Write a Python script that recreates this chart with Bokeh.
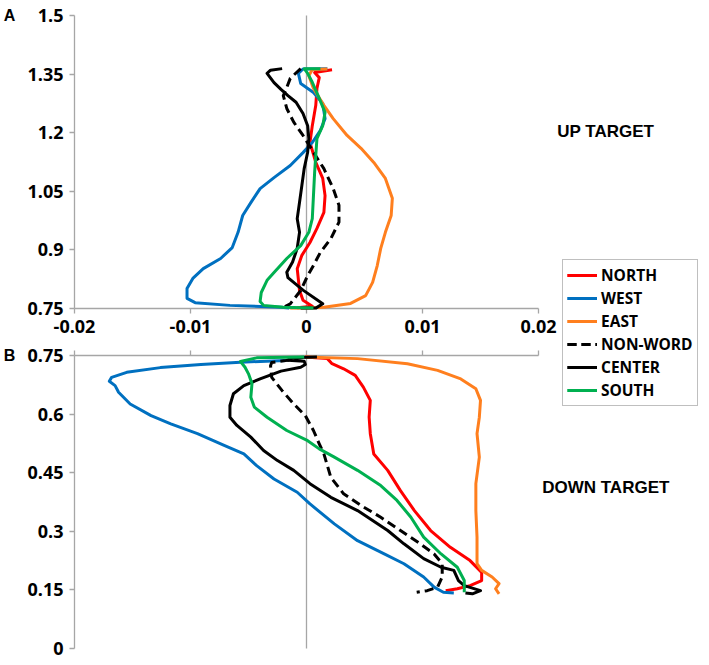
from bokeh.plotting import figure
from bokeh.models import Range1d, LinearAxis, FixedTicker, Legend, LegendItem, Label
from bokeh.embed import file_html
from bokeh.resources import INLINE

# ---------------- data ----------------
series_names = ["NORTH", "WEST", "EAST", "NON-WORD", "CENTER", "SOUTH"]

x_ticks = [-0.02, -0.01, 0.0, 0.01, 0.02]
x_tick_labels = ["-0.02", "-0.01", "0", "0.01", "0.02"]
up_ticks = [0.75, 0.9, 1.05, 1.2, 1.35, 1.5]
up_tick_labels = ["0.75", "0.9", "1.05", "1.2", "1.35", "1.5"]
down_ticks = [0.0, 0.15, 0.3, 0.45, 0.6, 0.75]
down_tick_labels = ["0", "0.15", "0.3", "0.45", "0.6", "0.75"]

# UP TARGET (panel A)
north_up_x = [0.0022, 0.0007, 0.0011, 0.0009, 0.0008, 0.0005, 0.0003, 0.0008, 0.0014, 0.0016, 0.0015, 0.0009, 0.0003, -0.0004, -0.0008, -0.0006, -0.0003, 0.0005, -0.0008]
north_up_y = [1.361, 1.354, 1.341, 1.313, 1.270, 1.218, 1.175, 1.124, 1.083, 1.039, 0.996, 0.955, 0.919, 0.886, 0.852, 0.796, 0.771, 0.756, 0.752]

west_up_x = [0.0018, -0.0003, -0.0007, -0.0005, 0.0006, 0.0014, 0.0016, 0.0012, 0.0005, -0.0003, -0.0014, -0.0028, -0.0040, -0.0048, -0.0055, -0.0059, -0.0064, -0.0074, -0.0089, -0.0098, -0.0103, -0.0103, -0.0096, -0.0066, -0.0022, -0.0015]
west_up_y = [1.364, 1.363, 1.352, 1.326, 1.303, 1.275, 1.236, 1.206, 1.175, 1.149, 1.116, 1.085, 1.057, 1.021, 0.988, 0.945, 0.906, 0.878, 0.852, 0.827, 0.801, 0.776, 0.765, 0.758, 0.753, 0.751]

east_up_x = [0.0018, 0.0005, 0.0002, 0.0006, 0.0015, 0.0023, 0.0035, 0.0047, 0.0058, 0.0068, 0.0074, 0.0073, 0.0068, 0.0064, 0.0061, 0.0057, 0.0051, 0.0038, 0.0015, 0.0001, -0.0014]
east_up_y = [1.363, 1.362, 1.346, 1.313, 1.270, 1.236, 1.193, 1.160, 1.124, 1.083, 1.032, 0.988, 0.945, 0.904, 0.860, 0.817, 0.783, 0.763, 0.753, 0.751, 0.751]

nonword_up_x = [-0.0005, -0.0014, -0.0018, -0.0020, -0.0017, -0.0011, -0.0003, 0.0006, 0.0015, 0.0023, 0.0028, 0.0028, 0.0021, 0.0012, 0.0006, 0.0001, -0.0005, -0.0014, -0.0020]
nonword_up_y = [1.364, 1.339, 1.308, 1.295, 1.262, 1.227, 1.193, 1.150, 1.108, 1.057, 1.014, 0.971, 0.929, 0.894, 0.860, 0.834, 0.796, 0.762, 0.753]

center_up_x = [-0.0021, -0.0031, -0.0034, -0.0028, -0.0022, -0.0016, -0.0009, -0.0003, 0.0001, 0.0002, 0.0001, -0.0002, -0.0004, -0.0006, -0.0008, -0.0006, -0.0008, -0.0012, -0.0017, -0.0016, -0.0003, 0.0014, 0.0008, -0.0005]
center_up_y = [1.364, 1.360, 1.352, 1.328, 1.311, 1.295, 1.278, 1.249, 1.218, 1.185, 1.150, 1.108, 1.065, 1.022, 0.980, 0.945, 0.904, 0.869, 0.843, 0.829, 0.797, 0.762, 0.751, 0.751]

south_up_x = [0.0012, -0.0002, 0.0001, 0.0005, 0.0010, 0.0016, 0.0014, 0.0009, 0.0008, 0.0007, 0.0006, 0.0005, 0.0002, -0.0005, -0.0017, -0.0028, -0.0034, -0.0039, -0.0040, -0.0037, -0.0020, 0.0006]
south_up_y = [1.364, 1.364, 1.352, 1.329, 1.295, 1.252, 1.218, 1.185, 1.142, 1.098, 1.039, 0.980, 0.945, 0.911, 0.878, 0.842, 0.822, 0.791, 0.768, 0.758, 0.753, 0.751]

# DOWN TARGET (panel B)
north_down_x = [-0.0001, 0.0008, 0.0018, 0.0022, 0.0032, 0.0042, 0.0049, 0.0055, 0.0054, 0.0055, 0.0058, 0.0070, 0.0081, 0.0093, 0.0107, 0.0124, 0.0141, 0.0151, 0.0151, 0.0141, 0.0130, 0.0120]
north_down_y = [0.746, 0.744, 0.742, 0.729, 0.716, 0.699, 0.669, 0.635, 0.592, 0.550, 0.498, 0.456, 0.404, 0.353, 0.302, 0.259, 0.225, 0.195, 0.174, 0.161, 0.153, 0.148]

west_down_x = [-0.0018, -0.0057, -0.0091, -0.0126, -0.0155, -0.0168, -0.0170, -0.0165, -0.0162, -0.0152, -0.0134, -0.0117, -0.0094, -0.0071, -0.0054, -0.0043, -0.0028, -0.0008, 0.0003, 0.0024, 0.0044, 0.0067, 0.0084, 0.0101, 0.0110, 0.0118, 0.0127]
west_down_y = [0.737, 0.733, 0.727, 0.719, 0.707, 0.694, 0.684, 0.673, 0.656, 0.626, 0.596, 0.575, 0.550, 0.520, 0.498, 0.468, 0.434, 0.400, 0.370, 0.319, 0.276, 0.242, 0.217, 0.183, 0.157, 0.144, 0.142]

east_down_x = [-0.0001, 0.0044, 0.0087, 0.0113, 0.0133, 0.0146, 0.0150, 0.0149, 0.0147, 0.0149, 0.0146, 0.0146, 0.0147, 0.0147, 0.0151, 0.0160, 0.0166, 0.0163, 0.0166]
east_down_y = [0.746, 0.742, 0.729, 0.712, 0.690, 0.665, 0.635, 0.592, 0.550, 0.490, 0.422, 0.353, 0.285, 0.217, 0.200, 0.183, 0.166, 0.153, 0.140]

nonword_down_x = [-0.0003, -0.0018, -0.0030, -0.0031, -0.0030, -0.0021, -0.0011, -0.0001, 0.0006, 0.0011, 0.0015, 0.0021, 0.0032, 0.0047, 0.0064, 0.0081, 0.0098, 0.0110, 0.0117, 0.0117, 0.0113, 0.0104, 0.0095]
nonword_down_y = [0.745, 0.737, 0.732, 0.724, 0.694, 0.660, 0.626, 0.596, 0.558, 0.524, 0.498, 0.438, 0.396, 0.366, 0.336, 0.302, 0.268, 0.242, 0.217, 0.183, 0.157, 0.148, 0.144]

center_down_x = [0.0009, -0.0014, -0.0016, -0.0002, -0.0001, -0.0005, -0.0022, -0.0040, -0.0054, -0.0063, -0.0066, -0.0066, -0.0060, -0.0048, -0.0037, -0.0025, -0.0011, 0.0003, 0.0021, 0.0044, 0.0070, 0.0084, 0.0101, 0.0116, 0.0127, 0.0131, 0.0136, 0.0150, 0.0143, 0.0137]
center_down_y = [0.746, 0.744, 0.738, 0.735, 0.727, 0.720, 0.710, 0.690, 0.673, 0.652, 0.622, 0.592, 0.571, 0.541, 0.507, 0.481, 0.456, 0.422, 0.387, 0.353, 0.302, 0.268, 0.230, 0.208, 0.200, 0.174, 0.161, 0.148, 0.140, 0.142]

south_down_x = [-0.0002, -0.0043, -0.0057, -0.0053, -0.0050, -0.0047, -0.0048, -0.0045, -0.0034, -0.0017, 0.0001, 0.0011, 0.0024, 0.0044, 0.0064, 0.0078, 0.0090, 0.0101, 0.0116, 0.0130, 0.0136, 0.0136]
south_down_y = [0.746, 0.744, 0.735, 0.720, 0.703, 0.678, 0.643, 0.618, 0.592, 0.558, 0.532, 0.511, 0.490, 0.456, 0.417, 0.379, 0.336, 0.285, 0.242, 0.208, 0.174, 0.144]

# ---------------- styling ----------------
colors = {"NORTH": "#FF0000", "WEST": "#0070C0", "EAST": "#FF7F1E",
          "NON-WORD": "#000000", "CENTER": "#000000", "SOUTH": "#00B050"}
dashes = {"NON-WORD": "9 5"}
GRAY = "#a6a6a6"
TICK_FONT = "Open Sans"

up_data = {"NORTH": (north_up_x, north_up_y), "WEST": (west_up_x, west_up_y),
           "EAST": (east_up_x, east_up_y), "NON-WORD": (nonword_up_x, nonword_up_y),
           "CENTER": (center_up_x, center_up_y), "SOUTH": (south_up_x, south_up_y)}
down_data = {"NORTH": (north_down_x, north_down_y), "WEST": (west_down_x, west_down_y),
             "EAST": (east_down_x, east_down_y), "NON-WORD": (nonword_down_x, nonword_down_y),
             "CENTER": (center_down_x, center_down_y), "SOUTH": (south_down_x, south_down_y)}

# ---------------- layout geometry (pixels of the canvas) ----------------
W, H = 705, 661
PX_X0, PX_X1 = 74.0, 538.0         # x = -0.02 and x = 0.02
PX_A_TOP, PX_A_BOT = 15.0, 308.0   # panel A: 1.5 .. 0.75
PX_B_TOP, PX_B_BOT = 355.0, 648.0  # panel B: 0.75 .. 0
ppx = (PX_X1 - PX_X0) / 0.04
ppy = (PX_A_BOT - PX_A_TOP) / 0.75

x_start = -0.02 - PX_X0 / ppx
x_end = -0.02 + (W - PX_X0) / ppx
b_start = 0.0 - (H - PX_B_BOT) / ppy
b_end = 0.75 + PX_B_TOP / ppy
a_start = 0.75 - (H - PX_A_BOT) / ppy
a_end = 1.5 + PX_A_TOP / ppy

p = figure(frame_width=W, frame_height=H,
           x_range=Range1d(x_start, x_end), y_range=Range1d(b_start, b_end),
           x_axis_location=None, y_axis_location=None,
           toolbar_location=None, output_backend="svg",
           min_border_left=0, min_border_right=0, min_border_top=0, min_border_bottom=0)
p.extra_y_ranges = {"A": Range1d(a_start, a_end)}
p.outline_line_color = None
p.xgrid.visible = False
p.ygrid.visible = False
p.background_fill_color = "white"
p.border_fill_color = "white"


def style_axis(ax):
    ax.axis_line_color = GRAY
    ax.axis_line_width = 1.3
    ax.major_tick_line_color = GRAY
    ax.major_tick_line_width = 1.3
    ax.major_tick_out = 5
    ax.major_tick_in = 0
    ax.minor_tick_out = 0
    ax.minor_tick_in = 0
    ax.major_label_text_font = TICK_FONT
    ax.major_label_text_font_style = "bold"
    ax.major_label_text_font_size = "18px"
    ax.major_label_text_color = "black"
    ax.major_label_standoff = 6
    ax.level = "underlay"
    return ax


# left axes
yA = style_axis(LinearAxis(y_range_name="A", fixed_location=-0.02, bounds=(0.75, 1.5),
                           ticker=FixedTicker(ticks=up_ticks),
                           major_label_overrides=dict(zip(up_ticks, up_tick_labels))))
p.add_layout(yA, "left")
yB = style_axis(LinearAxis(fixed_location=-0.02, bounds=(0.0, 0.75),
                           ticker=FixedTicker(ticks=down_ticks),
                           major_label_overrides=dict(zip(down_ticks, down_tick_labels))))
p.add_layout(yB, "left")

# horizontal axes
xA = style_axis(LinearAxis(y_range_name="A", fixed_location=0.75, bounds=(-0.02, 0.02),
                           ticker=FixedTicker(ticks=x_ticks),
                           major_label_overrides=dict(zip(x_ticks, x_tick_labels))))
p.add_layout(xA, "below")
xB = style_axis(LinearAxis(fixed_location=0.75, bounds=(-0.02, 0.02),
                           ticker=FixedTicker(ticks=x_ticks),
                           major_label_overrides={t: "" for t in x_ticks}))
p.add_layout(xB, "above")

# zero lines
zA = style_axis(LinearAxis(y_range_name="A", fixed_location=0.0, bounds=(0.75, 1.5),
                           ticker=FixedTicker(ticks=[])))
zA.major_tick_out = 0
p.add_layout(zA, "left")
zB = style_axis(LinearAxis(fixed_location=0.0, bounds=(0.0, 0.75),
                           ticker=FixedTicker(ticks=[])))
zB.major_tick_out = 0
p.add_layout(zB, "left")

items = []
for name in series_names:
    kw = dict(line_color=colors[name], line_width=3, line_join="round")
    if name in dashes:
        kw["line_dash"] = dashes[name]
    ux, uy = up_data[name]
    dx, dy = down_data[name]
    rA = p.line(ux, uy, y_range_name="A", **kw)
    rB = p.line(dx, dy, **kw)
    items.append(LegendItem(label=name, renderers=[rA, rB]))

legend = Legend(items=items, location=(562, H - 406), margin=0, padding=4, spacing=1,
                glyph_width=30, glyph_height=20, label_height=20, label_standoff=4,
                label_text_font=TICK_FONT, label_text_font_style="bold",
                label_text_font_size="15.5px", label_text_color="black",
                border_line_color="#808080", border_line_width=1.5,
                background_fill_color="white", background_fill_alpha=1.0)
p.add_layout(legend, "center")

side_x = 0.0258
p.add_layout(Label(x=side_x, y=1.204, y_range_name="A", text="UP TARGET",
                   text_align="center", text_baseline="middle",
                   text_font="Liberation Sans", text_font_style="bold",
                   text_font_size="17px", text_color="black"))
p.add_layout(Label(x=side_x, y=0.411, text="DOWN TARGET",
                   text_align="center", text_baseline="middle",
                   text_font="Liberation Sans", text_font_style="bold",
                   text_font_size="17px", text_color="black"))
p.add_layout(Label(x=-0.0256, y=1.5, y_range_name="A", text="A",
                   text_align="center", text_baseline="middle",
                   text_font="Liberation Sans", text_font_style="bold",
                   text_font_size="16px", text_color="black"))
p.add_layout(Label(x=-0.0256, y=0.75, text="B",
                   text_align="center", text_baseline="middle",
                   text_font="Liberation Sans", text_font_style="bold",
                   text_font_size="16px", text_color="black"))

open("out.html", "w").write(file_html(p, INLINE))
